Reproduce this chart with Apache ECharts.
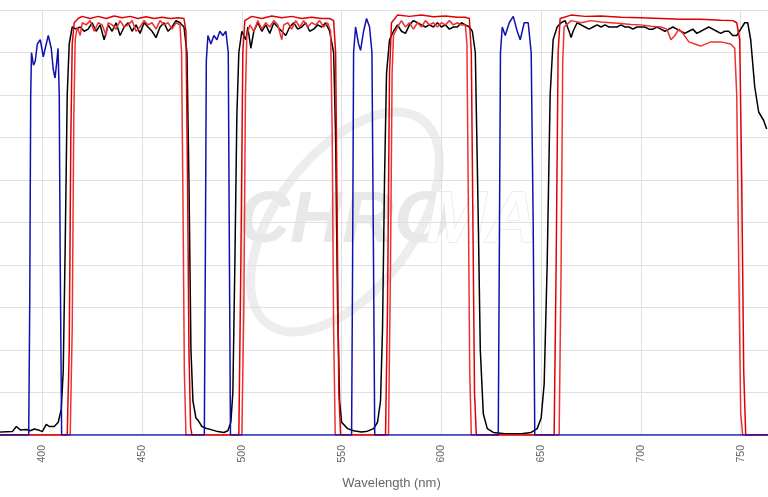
<!DOCTYPE html>
<html><head><meta charset="utf-8">
<script src="https://cdn.jsdelivr.net/npm/echarts@6/dist/echarts.min.js"></script>
<style>html,body{margin:0;padding:0;background:#fff;overflow:hidden;width:768px;height:497px}#c{position:absolute;left:-63px;top:0;width:909px;height:497px}</style>
</head><body><div id="c"></div>
<script>
const xTicks = [350,400,450,500,550,600,650,700,750,800];
const blue = [[370,0],[393.2,0],[393.7,30],[394.2,80],[394.6,90],[395.6,87],[396.5,88],[397.5,92],[399,93],[400.5,89],[402,92],[403,94],[404.5,91],[405.5,86],[406.4,84],[407.3,88],[407.9,91],[408.5,80],[409,40],[409.7,0],[481.2,0],[481.7,40],[482.2,88],[483,94],[484.5,92],[486,94],[487.5,93],[489,95],[490.5,94],[492,95],[493.2,90],[493.8,40],[494.3,0],[555,0],[555.5,40],[556,90],[557,96],[558.5,92],[559.5,90.5],[561,95],[562.5,98],[564,96],[565.2,90],[566,40],[566.6,0],[628.5,0],[629,40],[629.6,90],[630.5,96],[632,94],[634,97],[636,98.5],[638,95],[639.5,93],[641.5,97],[643.5,97],[645,90],[646,50],[646.8,0],[780,0]];
const black = [[370,0.5],[385,0.8],[387,2],[389,1.2],[392,1.3],[394,1],[396,1.4],[398,1.2],[400,0.8],[402,2.5],[403.5,2],[406,2],[408,3],[409.5,6],[410.5,15],[411.5,45],[412.5,80],[413.5,92],[415,96],[417,95.5],[419,96],[421,95],[423,95.5],[425,97],[427,95],[429,96.5],[431,93],[433,96.5],[435,95],[437,97],[439,94],[441,96],[443,97],[445,95],[447,96.5],[449,94.5],[451,97],[453,96],[455,95],[457,93.5],[459,96],[461,97],[463,95],[465,96],[467,97.5],[469,97],[471,96],[472.5,90],[473.5,60],[474.5,20],[475.5,8],[477,4],[478,3.5],[480,2],[482,1.6],[485,1.2],[488,0.8],[491,0.6],[493,1],[494.5,3],[495.5,10],[496.5,40],[497.5,75],[498.5,90],[500,95],[502,93],[503,96],[504.5,91],[506,95],[508,97],[510,95],[512,96.5],[514,94.5],[516,97],[518,96],[520,95],[522,94],[524,96],[526,97],[528,95.5],[530,96],[532,97],[534,95],[536,95.5],[538,96.5],[540,96],[542,97],[544,95],[546,90],[547,70],[548,30],[549,8],[550,3],[553,1.5],[556,1],[560,0.7],[563,0.9],[566,1.5],[568,3],[569.5,8],[570.5,25],[571.5,60],[572.5,85],[574,93],[576,95],[578,96.5],[580,95],[582,94.5],[584,96.5],[586,97.5],[588,97],[590,96.5],[592,96],[594,96.5],[596,96],[598,97],[600,96],[602,96.5],[604,95.5],[606,96],[608,96],[610,97],[612,96.5],[614,96],[615.5,95],[617,90],[618.5,50],[619.5,20],[621,5],[623,1.5],[626,0.6],[632,0.3],[640,0.3],[645,0.6],[648,1.5],[650,4],[651.5,12],[653,40],[654.5,80],[656,93],[658,96],[660,97],[662,97.5],[664,95],[665,93.5],[666,95],[668,97],[670,96.5],[672,96],[674,95.5],[676,96],[678,96.5],[680,96],[682,96.5],[684,96],[686,96],[688,96],[690,96.5],[692,96],[694,96],[696,95.5],[698,96],[700,96],[702,96],[704,95.5],[706,95.5],[708,96],[710,95.5],[712,95],[714,95.5],[716,96],[718,95.5],[720,95],[722,94.5],[724,95],[726,95.5],[728,94.5],[730,95],[732,95.5],[734,96],[736,95.5],[738,95],[740,94.5],[742,95],[744,95],[746,94],[748,94],[750,95.5],[752,97],[753.5,97],[755,93],[757,82],[759,76],[761.5,74],[763,72]];
const redA = [[370,0],[412.5,0],[413.5,20],[414.3,70],[415,92],[416,97],[418,98],[420,98.5],[424,98],[428,98.5],[432,98],[436,98.6],[440,98.2],[444,98.5],[448,98],[452,98.4],[456,98],[460,98.3],[464,98],[468,98.2],[471,98],[472,95],[472.8,60],[473.5,20],[474.3,2],[475,0],[498.5,0],[499.5,40],[500.5,90],[501.5,97.5],[505,98.5],[510,98],[515,98.6],[520,98.2],[525,98.5],[530,98],[535,98.3],[540,98],[544,98],[546,97.5],[547,90],[547.8,50],[548.6,10],[549.5,0],[572,0],[573,30],[574,85],[575,97],[578,98.8],[584,98.5],[590,98.8],[596,98.4],[602,98.6],[608,98.3],[612,98.3],[614,98],[615,90],[615.8,50],[616.6,10],[617.5,0],[656.5,0],[657.5,40],[658.5,90],[659.5,98],[665,98.8],[672,98.5],[680,98.6],[690,98.3],[700,98.2],[710,98],[720,97.8],[730,97.8],[740,97.6],[746,97.5],[748,97],[749.5,93],[750.5,60],[751.5,15],[752.5,0],[780,0]];
const redB = [[370,0],[414,0],[415,25],[415.8,75],[416.5,93],[417.5,96],[419,94],[420,97],[422,96.5],[424,97.5],[426,95],[428,97],[430,96.5],[432,94],[433,97],[435,96.5],[437,95.5],[439,97.5],[441,96],[443,96.5],[445,97.5],[447,95],[449,96],[451,97.5],[453,96.5],[455,97],[457,95.5],[459,97.5],[461,96.5],[463,97],[465,95.5],[467,97],[469,96.5],[469.8,90],[470.5,55],[471.2,15],[472,0],[500,0],[501,30],[501.8,80],[502.5,94],[504,96.5],[506,95],[508,97.5],[510,95.5],[512,97],[514,96],[516,97.5],[518,96.5],[520,93],[521,96.5],[523,97],[525,95.5],[527,97.5],[529,96],[531,97.5],[533,96],[535,97],[537,96.5],[539,97.5],[541,96],[543,97],[544.5,95],[545.3,70],[546,25],[546.8,0],[573.5,0],[574.5,40],[575.3,85],[576,94],[578,96],[580,97.5],[582,96],[584,97],[586,95.5],[588,97],[590,96],[592,97.5],[594,96.5],[596,97],[598,96],[600,97],[602,96.5],[604,97.5],[606,96.5],[608,97],[610,96.5],[612,96.5],[612.8,92],[613.5,55],[614.2,15],[615,0],[659,0],[660,40],[660.8,88],[661.5,96],[665,97.5],[670,97],[675,97.5],[680,97.2],[685,97],[690,96.8],[695,96.6],[700,96.5],[705,96.2],[710,96],[713,95.5],[715,93],[717,94],[719,95.5],[721,94.5],[724,92.5],[727,92],[730,91.5],[735,92.5],[740,92.5],[745,92],[747,91],[748,80],[749,40],[750,5],[751,0],[780,0]];

const chart = echarts.init(document.getElementById('c'));
const mk = (d,c,w)=>({type:'line',data:d,symbol:'none',lineStyle:{color:c,width:w},itemStyle:{color:c},animation:false});
const ox = 63;
chart.setOption({
  animation:false,
  grid:{left:0,right:0,top:10,bottom:62,containLabel:false},
  graphic:[
    {type:'ellipse',x:0,y:0,origin:[345+ox,222],rotation:-0.65,shape:{cx:345+ox,cy:222,rx:68,ry:128},style:{fill:'none',stroke:'#ededed',lineWidth:9},z:0,silent:true},
    {type:'text',x:238+ox,y:186,style:{text:'CHRO',font:'italic bold 72px "Liberation Sans", Arial, sans-serif',fill:'#e8e8e8'},z:0,silent:true},
    {type:'text',x:426+ox,y:186,style:{text:'MA',font:'italic bold 72px "Liberation Sans", Arial, sans-serif',fill:'#ffffff',stroke:'#e8e8e8',lineWidth:1.5},z:0,silent:true}
  ],
  xAxis:{type:'value',min:350,max:800,interval:50,
    name:'Wavelength (nm)',nameLocation:'middle',nameGap:42,
    nameTextStyle:{color:'#666',fontSize:13,fontFamily:'Liberation Sans'},
    axisLine:{show:false},axisTick:{show:false},
    axisLabel:{rotate:90,color:'#666',fontSize:10.5,margin:10,fontFamily:'Liberation Sans'},
    splitLine:{show:true,lineStyle:{color:'#e0e0e0',width:1}}},
  yAxis:{type:'value',min:0,max:100,interval:10,axisLabel:{show:false},axisLine:{show:false},axisTick:{show:false},
    splitLine:{show:true,lineStyle:{color:'#e0e0e0',width:1}}},
  series:[mk(black,'#000000',1.5),mk(redB,'#f03030',1.5),mk(redA,'#e00000',1.5),mk(blue,'#1010b0',1.5)]
});
</script></body></html>
